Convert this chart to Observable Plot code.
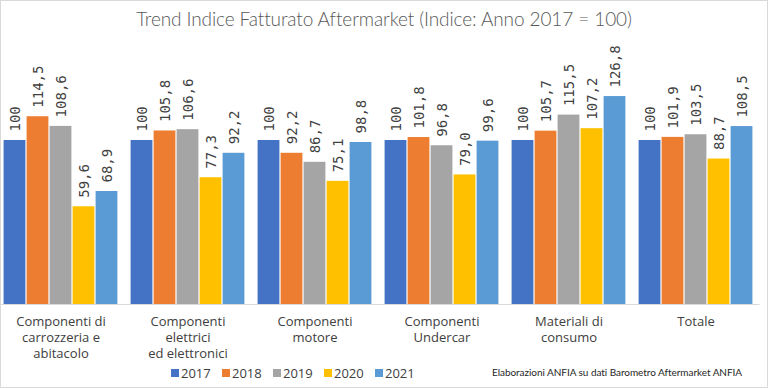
<!DOCTYPE html>
<html>
<head>
<meta charset="utf-8">
<script src="https://cdn.jsdelivr.net/npm/d3@7"></script>
<script src="https://cdn.jsdelivr.net/npm/@observablehq/plot@0.6"></script>
<style>
  html, body { margin: 0; padding: 0; background: #fff; }
  #wrap { position: relative; width: 768px; height: 388px; overflow: hidden; font-family: "Open Sans", sans-serif; }
  #border { position: absolute; left: 0; top: 0; width: 768px; height: 388px; box-sizing: border-box; border: 1px solid #d9d9d9; pointer-events: none; }
  #title { position: absolute; left: 0; top: 7px; width: 768px; text-align: center; font-family: Lato, sans-serif; font-weight: 300; font-size: 19px; color: #595959; letter-spacing: -0.1px; }
  #chart { position: absolute; left: 0; top: 0; }
  #legend { position: absolute; left: 171px; top: 364px; display: flex; font-size: 13px; color: #404040; }
  #legend .item { display: flex; align-items: center; width: 51px; }
  #legend .sw { width: 8px; height: 8px; margin-right: 2px; }
  #source { position: absolute; left: 492px; top: 366px; font-family: Lato, sans-serif; font-size: 10px; color: #262626; letter-spacing: -0.05px; }
</style>
</head>
<body>
<div id="wrap">
  <div id="chart"></div>
  <div id="title">Trend Indice Fatturato Aftermarket (Indice: Anno 2017 = 100)</div>
  <div id="legend"></div>
  <div id="source">Elaborazioni ANFIA su dati Barometro Aftermarket ANFIA</div>
  <div id="border"></div>
</div>
<script>
const categories = [
  "Componenti di\ncarrozzeria e\nabitacolo",
  "Componenti\nelettrici\ned elettronici",
  "Componenti\nmotore",
  "Componenti\nUndercar",
  "Materiali di\nconsumo",
  "Totale"
];
const years = ["2017", "2018", "2019", "2020", "2021"];
const colors = ["#4472C4", "#ED7D31", "#A5A5A5", "#FFC000", "#5B9BD5"];
const v2017 = [100, 100, 100, 100, 100, 100];
const v2018 = [114.5, 105.8, 92.2, 101.8, 105.7, 101.9];
const v2019 = [108.6, 106.6, 86.7, 96.8, 115.5, 103.5];
const v2020 = [59.6, 77.3, 75.1, 79.0, 107.2, 88.7];
const v2021 = [68.9, 92.2, 98.8, 99.6, 126.8, 108.5];
const series = [v2017, v2018, v2019, v2020, v2021];

const data = [];
categories.forEach((c, i) => {
  years.forEach((y, j) => {
    data.push({category: c, year: y, value: series[j][i]});
  });
});
const fmt = d => d.value === 100 ? "100" : d.value.toFixed(1).replace(".", ",");
const catRows = categories.map(c => ({category: c}));

const chart = Plot.plot({
  width: 768,
  height: 388,
  marginTop: 58,
  marginBottom: 84,
  marginLeft: 1,
  marginRight: 13,
  fx: {domain: categories, padding: 0.08, axis: null},
  x: {domain: years, padding: 0, axis: null},
  y: {domain: [0, 150], axis: null},
  color: {domain: years, range: colors},
  style: {fontFamily: "Open Sans, sans-serif", background: "transparent"},
  marks: [
    Plot.barY(data, {fx: "category", x: "year", y: "value", fill: "year", insetLeft: 0.6, insetRight: 0.6}),
    Plot.ruleY(catRows, {fx: "category", y: 0, stroke: "#d9d9d9", insetLeft: -5.5, insetRight: -5.5}),
    Plot.text(data, {fx: "category", x: "year", y: "value", text: fmt, rotate: -90, textAnchor: "start", lineAnchor: "middle", dx: 1, dy: -9, fontSize: 14, fontFamily: "DejaVu Sans Mono, monospace", fill: "#404040"}),
    Plot.text(catRows, {fx: "category", text: "category", frameAnchor: "bottom", lineAnchor: "top", dy: 10, lineHeight: 1.24, fontSize: 13, fill: "#404040"})
  ]
});
document.getElementById("chart").appendChild(chart);

const legend = document.getElementById("legend");
years.forEach((y, j) => {
  const item = document.createElement("div");
  item.className = "item";
  const sw = document.createElement("div");
  sw.className = "sw";
  sw.style.background = colors[j];
  const t = document.createElement("span");
  t.textContent = y;
  item.appendChild(sw);
  item.appendChild(t);
  legend.appendChild(item);
});
</script>
</body>
</html>
